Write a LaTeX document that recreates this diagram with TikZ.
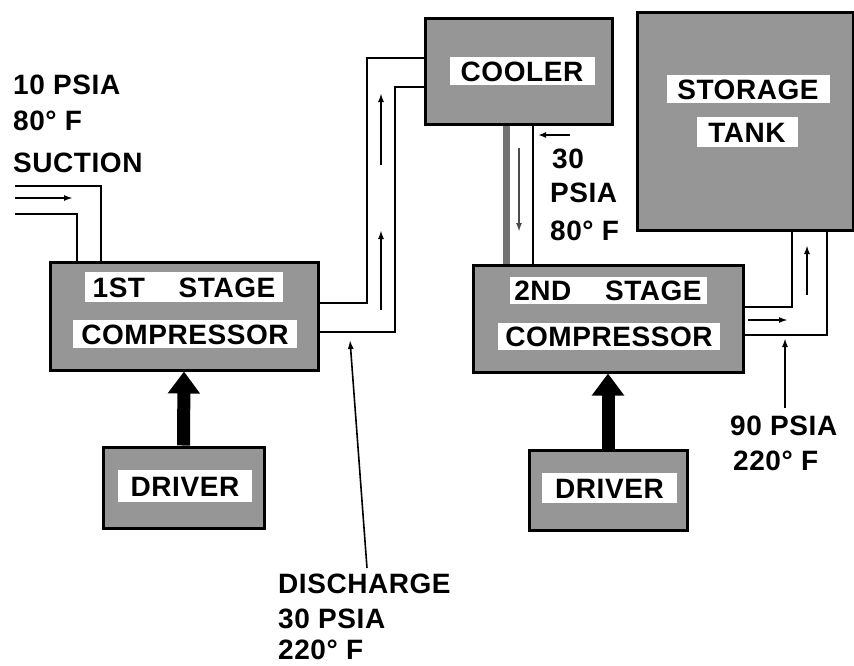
\documentclass[tikz,border=0pt]{standalone}
\usepackage{fontspec}
\newfontfamily\lblfont[LetterSpace=2]{Liberation Sans}
\usetikzlibrary{arrows.meta}
\definecolor{halftone}{RGB}{150,150,150}
\definecolor{pipegray}{RGB}{115,115,115}
\tikzset{
  unitbox/.style={draw=black, line width=3pt, fill=halftone, inner sep=0pt, rectangle},
  boxlabel/.style={fill=white, inner sep=0pt, font=\lblfont\bfseries\fontsize{28}{34}\selectfont,
    text height=20pt, text depth=0pt, align=center},
  txt/.style={anchor=base west, inner sep=0pt, font=\lblfont\bfseries\fontsize{28}{34}\selectfont},
  pipe/.style={line width=2pt, line join=miter},
  flow/.style={line width=2pt, -{Latex[length=9pt,width=6pt]}},
  drive/.style={line width=13pt, -{Triangle[length=22pt,width=31pt]}},
}
\begin{document}
\begin{tikzpicture}[x=1pt,y=-1pt]
\useasboundingbox[fill=white] (0,0) rectangle (854,665);

% boxes
\node[unitbox, minimum width=268pt, minimum height=108pt] (c1) at (184,316) {};
\node[unitbox, minimum width=270pt, minimum height=107pt] (c2) at (608,318.5) {};
\node[unitbox, minimum width=187pt, minimum height=106pt] (cool) at (518.5,71) {};
\node[unitbox, minimum width=216pt, minimum height=218pt] (tank) at (745,121) {};
\node[unitbox, minimum width=161pt, minimum height=81pt] (d1) at (183.5,487.5) {};
\node[unitbox, minimum width=158pt, minimum height=80pt] (d2) at (608,490) {};

% labels in boxes
\node[boxlabel, minimum width=198pt, minimum height=30pt] (l1a) at (184,287) {1ST\hspace{1.2em}STAGE};
\node[boxlabel, minimum width=224pt, minimum height=28pt] (l1b) at (185,334) {COMPRESSOR};
\node[boxlabel, minimum width=197pt, minimum height=27pt] (l2a) at (608,290) {2ND\hspace{1.2em}STAGE};
\node[boxlabel, minimum width=222pt, minimum height=27pt] (l2b) at (609,336) {COMPRESSOR};
\node[boxlabel, minimum width=145pt, minimum height=28pt] (lc) at (522,71) {COOLER};
\node[boxlabel, minimum width=163pt, minimum height=28pt] (lt1) at (748,89) {STORAGE};
\node[boxlabel, minimum width=101pt, minimum height=30pt] (lt2) at (747,132) {TANK};
\node[boxlabel, minimum width=134pt, minimum height=32pt] (ld1) at (185,486) {DRIVER};
\node[boxlabel, minimum width=135pt, minimum height=30pt] (ld2) at (609.5,488) {DRIVER};

% free-end coordinates
\coordinate (sA) at (15,186);
\coordinate (sB) at (15,214);
\coordinate (sC) at (15,198);
\coordinate (sCe) at (73,198);
\coordinate (a1s) at (381,310); \coordinate (a1e) at (381,230);
\coordinate (a2s) at (381,165); \coordinate (a2e) at (381,93);
\coordinate (disS) at (367,568); \coordinate (disE) at (350,340);
\coordinate (cdS) at (519,148); \coordinate (cdE) at (519,232);
\coordinate (p30S) at (570,135); \coordinate (p30E) at (538,135);
\coordinate (a3s) at (748,320); \coordinate (a3e) at (788,320);
\coordinate (a4s) at (807,295); \coordinate (a4e) at (807,245);
\coordinate (p90S) at (785,408); \coordinate (p90E) at (785,338);

% suction pipe
\draw[pipe] (sA) -- (101,186) -- (101,0 |- c1.north);
\draw[pipe] (sB) -- (77,214) -- (77,0 |- c1.north);
\draw[flow] (sC) -- (sCe);

% discharge pipe to cooler
\draw[pipe] (c1.east |- 0,303) -- (367,303) -- (367,58) -- (cool.west |- 0,58);
\draw[pipe] (c1.east |- 0,332) -- (395,332) -- (395,87) -- (cool.west |- 0,87);
\draw[flow] (a1s) -- (a1e);
\draw[flow] (a2s) -- (a2e);
\draw[line width=1.6pt, -{Latex[length=9pt,width=6pt]}] (disS) -- (disE);

% cooler to 2nd stage
\draw[line width=7pt, pipegray] (506,0 |- cool.south) -- (506,0 |- c2.north);
\draw[pipe] (533,0 |- cool.south) -- (533,0 |- c2.north);
\draw[line width=2.5pt, black!70, -{Latex[length=9pt,width=6pt]}] (cdS) -- (cdE);
\draw[line width=1.8pt, -{Latex[length=8pt,width=6pt]}] (p30S) -- (p30E);

% 2nd stage to tank
\draw[pipe] (c2.east |- 0,307) -- (792,307) -- (792,0 |- tank.south);
\draw[pipe] (c2.east |- 0,335) -- (827,335) -- (827,0 |- tank.south);
\draw[flow] (a3s) -- (a3e);
\draw[flow] (a4s) -- (a4e);
\draw[line width=1.8pt, -{Latex[length=9pt,width=6pt]}] (p90S) -- (p90E);

% drivers
\draw[drive] (d1.north) -- (c1.south);
\draw[drive] (d2.north) -- (c2.south);

% texts
\node[txt] (t1) at (13,94) {10 PSIA};
\node[txt] (t2) at (13,130) {80° F};
\node[txt] (t3) at (13,172) {SUCTION};
\node[txt] (t4) at (552,168) {30};
\node[txt] (t5) at (550,202) {PSIA};
\node[txt] (t6) at (550,240) {80° F};
\node[txt] (t7) at (730,435) {90 PSIA};
\node[txt] (t8) at (733,470) {220° F};
\node[txt] (t9) at (278,593) {DISCHARGE};
\node[txt] (t10) at (278,628) {30 PSIA};
\node[txt] (t11) at (278,659) {220° F};
\end{tikzpicture}
\end{document}
